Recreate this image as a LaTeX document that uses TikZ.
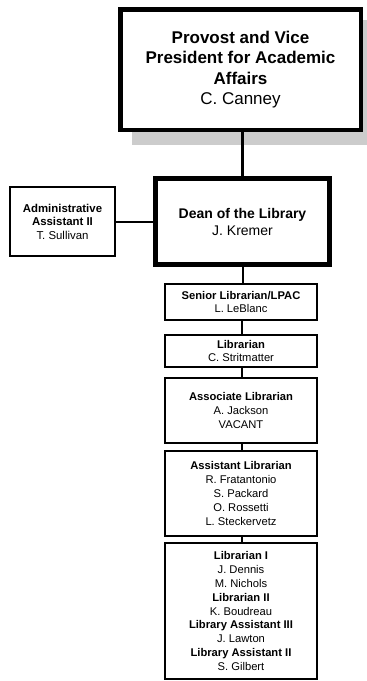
\documentclass[tikz,border=0pt]{standalone}
\usepackage{fontspec}
\setmainfont{Liberation Sans}
\begin{document}
\begin{tikzpicture}[x=1pt,y=-1pt,
  orgbox/.style={draw=black, fill=white, line width=2pt, inner sep=0pt,
    align=center, minimum width=152pt},
  smalltext/.style={font=\fontsize{11.2}{13.8}\selectfont},
  link/.style={draw=black, line width=2pt}]
\useasboundingbox (0,0) rectangle (367,681);

% drop shadow behind the top box
\fill[gray!40] (132,20) rectangle (377,145);

% top of the chart
\node[orgbox, line width=4.5pt, minimum width=240.5pt, minimum height=120.5pt,
  font=\fontsize{17}{20.5}\selectfont] (provost) at (240.5,69.5)
  {\textbf{Provost and Vice}\\\textbf{President for Academic}\\\textbf{Affairs}\\C. Canney};

\node[orgbox, line width=5pt, minimum width=174pt, minimum height=86pt,
  font=\fontsize{14}{17}\selectfont] (dean) at (242.5,221.5)
  {\textbf{Dean of the Library}\\J. Kremer};

\node[orgbox, minimum width=105pt, minimum height=69pt,
  font=\fontsize{11.4}{13.5}\selectfont] (admin) at (62.5,221.5)
  {\textbf{Administrative}\\\textbf{Assistant II}\\T. Sullivan};

% stacked staff boxes
\node[orgbox, smalltext, minimum height=36pt] (senior) at (241,302)
  {\textbf{Senior Librarian/LPAC}\\L. LeBlanc};
\node[orgbox, smalltext, minimum height=32pt] (librarian) at (241,351)
  {\textbf{Librarian}\\C. Stritmatter};
\node[orgbox, smalltext, minimum height=65pt] (associate) at (241,410.5)
  {\textbf{Associate Librarian}\\A. Jackson\\VACANT};
\node[orgbox, smalltext, minimum height=85pt] (assistant) at (241,493.5)
  {\textbf{Assistant Librarian}\\R. Fratantonio\\S. Packard\\O. Rossetti\\L. Steckervetz};
\node[orgbox, smalltext, minimum height=136pt] (staff) at (241,611)
  {\textbf{Librarian I}\\J. Dennis\\M. Nichols\\\textbf{Librarian II}\\K. Boudreau\\
   \textbf{Library Assistant III}\\J. Lawton\\\textbf{Library Assistant II}\\S. Gilbert};

% connectors
\draw[link, line width=2.5pt] (dean.north) -- (dean.north |- provost.south);
\draw[link] (admin.east) -- (dean.west);
\draw[link] (senior.north -| dean.south) -- (dean.south);
\draw[link] ([xshift=1pt]librarian.north) -- ([xshift=1pt]senior.south);
\draw[link] ([xshift=1pt]associate.north) -- ([xshift=1pt]librarian.south);
\draw[link] ([xshift=1pt]assistant.north) -- ([xshift=1pt]associate.south);
\draw[link] ([xshift=1pt]staff.north) -- ([xshift=1pt]assistant.south);
\end{tikzpicture}
\end{document}
